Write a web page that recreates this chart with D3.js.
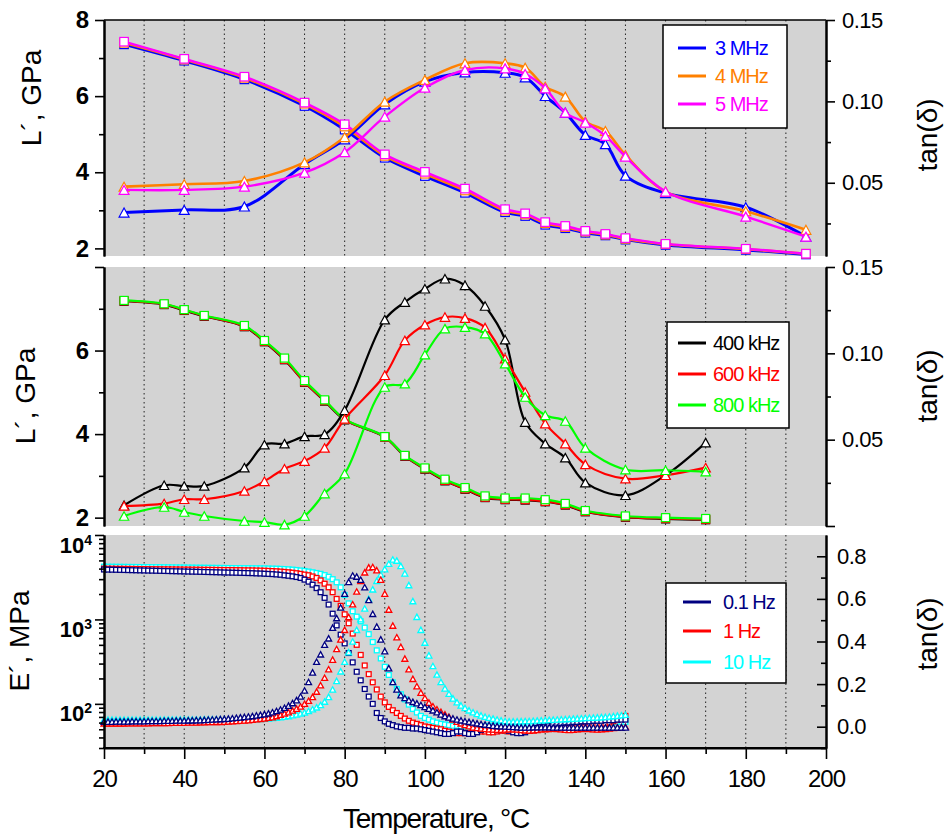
<!DOCTYPE html>
<html><head><meta charset="utf-8">
<script src="https://cdn.jsdelivr.net/npm/d3@7"></script>
<style>body{margin:0;background:#fff;} svg{display:block;}</style>
</head><body><svg id="c" width="949" height="838"></svg>
<script>
// ---------------- DATA ----------------
// Panel 1 (MHz)
const T1 = [25,40,55,70,80,90,100,110,120,125,130,135,140,145,150,160,180,195];
const L_3MHz = [7.36,6.93,6.44,5.74,5.12,4.38,3.90,3.46,2.95,2.85,2.62,2.53,2.41,2.34,2.23,2.09,1.96,1.84];
const L_4MHz = [7.40,6.96,6.48,5.80,5.20,4.43,3.96,3.52,2.99,2.89,2.66,2.56,2.44,2.36,2.25,2.11,1.98,1.86];
const L_5MHz = [7.43,6.98,6.51,5.83,5.26,4.47,4.01,3.57,3.03,2.92,2.69,2.59,2.46,2.38,2.27,2.12,1.99,1.86];
const tan_3MHz = [0.0317,0.0333,0.0354,0.0614,0.0767,0.0982,0.1121,0.1178,0.1176,0.1148,0.1033,0.0931,0.0794,0.0737,0.0544,0.0436,0.0350,0.0169];
const tan_4MHz = [0.0476,0.0491,0.0511,0.0625,0.0780,0.0998,0.1132,0.1234,0.1234,0.1207,0.1090,0.1029,0.0876,0.0818,0.0671,0.0446,0.0325,0.0211];
const tan_5MHz = [0.0456,0.0456,0.0476,0.0562,0.0688,0.0906,0.1084,0.1193,0.1203,0.1168,0.1080,0.0931,0.0870,0.0788,0.0661,0.0446,0.0292,0.0169];

// Panel 2 (kHz)
const T2 = [25,35,40,45,55,60,65,70,75,80,90,95,100,105,110,115,120,125,130,135,140,150,160,170];
const L_400k = [7.18,7.10,6.96,6.82,6.57,6.21,5.78,5.24,4.79,4.34,3.93,3.47,3.16,2.88,2.68,2.48,2.43,2.42,2.38,2.30,2.14,2.01,1.97,1.95];
const L_600k = [7.19,7.11,6.97,6.83,6.58,6.22,5.79,5.25,4.80,4.35,3.93,3.48,3.17,2.89,2.69,2.49,2.44,2.43,2.39,2.31,2.15,2.02,1.98,1.96];
const L_800k = [7.20,7.12,6.98,6.84,6.60,6.24,5.82,5.28,4.82,4.36,3.94,3.49,3.19,2.92,2.72,2.52,2.47,2.47,2.43,2.34,2.17,2.04,2.00,1.98];
const tan_400k = [0.0120,0.0236,0.0232,0.0232,0.0338,0.0471,0.0477,0.0519,0.0531,0.0670,0.1195,0.1297,0.1374,0.1432,0.1394,0.1274,0.1079,0.0602,0.0477,0.0396,0.0251,0.0178,0.0294,0.0483];
const tan_600k = [0.0116,0.0130,0.0155,0.0155,0.0203,0.0259,0.0332,0.0376,0.0452,0.0620,0.0873,0.1075,0.1166,0.1210,0.1204,0.1149,0.0969,0.0776,0.0593,0.0477,0.0357,0.0274,0.0294,0.0338];
const tan_800k = [0.0058,0.0110,0.0081,0.0058,0.0029,0.0023,0.0008,0.0058,0.0188,0.0303,0.0805,0.0824,0.0992,0.1143,0.1152,0.1114,0.0940,0.0747,0.0641,0.0608,0.0452,0.0327,0.0323,0.0315];

// Panel 3 (DMA, Hz)
const T3 = [20,21,22,23,24,25,26,27,28,29,30,31,32,33,34,35,36,37,38,39,40,41,42,43,44,45,46,47,48,49,
50,51,52,53,54,55,56,57,58,59,60,61,62,63,64,65,66,67,68,69,70,71,72,73,74,75,76,77,78,79,
80,81,82,83,84,85,86,87,88,89,90,91,92,93,94,95,96,97,98,99,100,101,102,103,104,105,106,107,108,109,
110,111,112,113,114,115,116,117,118,119,120,121,122,123,124,125,126,127,128,129,130,131,132,133,134,135,136,137,138,139,
140,141,142,143,144,145,146,147,148,149,150];
const E_01Hz = [3900,3890,3880,3870,3860,3850,3840,3830,3820,3810,
3800,3790,3780,3770,3760,3750,3740,3730,3720,3710,
3700,3690,3680,3670,3660,3650,3640,3630,3620,3610,
3600,3590,3580,3570,3560,3550,3540,3530,3510,3500,
3480,3460,3440,3410,3380,3330,3290,3240,3180,3100,
2960,2800,2580,2350,2100,1800,1500,1170,850,660,
520,400,310,240,190,150,122,100,78,68,
62,58,56,54,53,52,52,51,51,50,
49,48,47,46,45,44,44,45,47,47,
45,44,44,46,49,51,51,50,49,49,
49,48,46,45,45,46,48,50,52,53,
54,55,57,58,59,60,60,61,61,62,
62,62,63,63,63,64,64,64,65,65,65];
const E_1Hz = [4000,3995,3990,3985,3980,3975,3970,3965,3960,3955,
3950,3945,3940,3935,3930,3925,3920,3915,3910,3905,
3900,3895,3890,3885,3880,3875,3870,3865,3860,3855,
3850,3845,3840,3835,3830,3820,3815,3810,3800,3790,
3780,3760,3740,3720,3690,3660,3620,3580,3530,3470,
3400,3340,3230,3100,2900,2650,2400,2100,1750,1450,
1150,900,680,500,380,285,225,180,148,122,
104,92,84,78,72,67,63,60,58,56,
54,53,52,51,50,48,47,46,45,45,
45,45,46,47,47,47,46,46,47,48,
48,47,47,47,47,48,48,49,49,50,
50,50,51,51,52,52,52,53,53,54,
54,55,55,56,57,58,60,62,65,68,72];
const E_10Hz = [4220,4215,4210,4205,4200,4195,4190,4185,4180,4175,
4170,4165,4160,4155,4150,4145,4140,4135,4130,4125,
4120,4115,4110,4105,4100,4095,4090,4085,4080,4075,
4070,4065,4060,4055,4050,4045,4040,4035,4030,4025,
4020,4010,4000,3990,3970,3950,3920,3890,3850,3800,
3750,3690,3620,3550,3470,3350,3200,3000,2750,2400,
1950,1550,1250,1080,950,800,670,540,430,345,
275,220,180,150,130,113,98,87,79,72,
68,65,62,60,58,57,56,55,55,54,
54,54,54,54,54,54,55,55,55,55,
56,56,56,56,56,56,56,57,57,57,
57,57,58,58,58,58,58,58,59,59,
59,59,59,60,60,60,60,60,61,61,61];
const tan_01Hz = [.024,.024,.024,.025,.025,.025,.025,.026,.026,.026,
.026,.027,.027,.027,.027,.028,.028,.028,.029,.029,
.029,.030,.030,.031,.031,.032,.033,.034,.035,.036,
.037,.038,.040,.042,.044,.046,.048,.050,.053,.056,
.059,.063,.068,.074,.081,.089,.099,.111,.125,.142,
.170,.210,.255,.305,.340,.385,.415,.465,.510,.560,
.625,.680,.710,.705,.690,.655,.595,.530,.470,.410,
.355,.275,.210,.175,.148,.135,.125,.117,.110,.102,
.093,.085,.077,.068,.058,.050,.044,.039,.034,.030,
.026,.023,.020,.016,.013,.010,.008,.005,.003,.002,
.001,0,-.001,-.002,-.003,-.003,-.003,-.002,-.002,-.002,
-.002,-.002,-.003,-.003,-.003,-.003,-.003,-.003,-.003,-.003,
-.003,-.003,-.003,-.003,-.003,-.003,-.003,-.003,-.003,-.003,-.003];
const tan_1Hz = [.016,.016,.016,.016,.016,.016,.017,.017,.017,.017,
.017,.017,.018,.018,.018,.018,.018,.019,.019,.019,
.019,.020,.020,.020,.021,.021,.022,.022,.023,.023,
.024,.025,.026,.027,.028,.029,.031,.033,.035,.037,
.039,.042,.045,.050,.056,.062,.068,.076,.085,.095,
.108,.122,.140,.165,.195,.230,.270,.315,.365,.410,
.455,.515,.575,.635,.685,.725,.748,.750,.735,.690,
.625,.550,.475,.420,.375,.320,.270,.225,.190,.160,
.135,.113,.096,.082,.070,.058,.047,.034,.024,.016,
.008,.002,-.003,-.006,-.008,-.010,-.012,-.013,-.014,-.014,
-.013,-.012,-.012,-.013,-.015,-.017,-.018,-.017,-.015,-.012,
-.010,-.009,-.009,-.010,-.012,-.014,-.015,-.014,-.012,-.010,
-.009,-.010,-.012,-.013,-.012,-.010,-.008,-.006,-.004,-.002,0];
const tan_10Hz = [.033,.033,.033,.033,.033,.033,.033,.033,.033,.033,
.033,.033,.033,.033,.033,.034,.034,.034,.034,.034,
.034,.034,.034,.034,.034,.035,.035,.035,.035,.035,
.035,.035,.035,.036,.036,.036,.036,.037,.037,.037,
.038,.039,.041,.043,.045,.047,.050,.054,.058,.062,
.067,.074,.082,.091,.102,.118,.140,.175,.215,.260,
.305,.350,.400,.455,.505,.555,.600,.645,.685,.715,
.740,.765,.785,.780,.755,.720,.665,.590,.516,.455,
.395,.335,.285,.245,.210,.180,.155,.133,.115,.100,
.088,.077,.068,.060,.053,.047,.042,.038,.034,.030,
.027,.025,.025,.025,.026,.027,.027,.028,.029,.030,
.031,.032,.033,.034,.035,.036,.037,.038,.039,.040,
.041,.042,.043,.044,.045,.046,.048,.050,.052,.054,.056];

// Ticks
const xMajor = [20,40,60,80,100,120,140,160,180,200];
const xMinor = [30,50,70,90,110,130,150,170,190];
const gridT = [30,40,50,60,70,80,90,100,110,120,130,140,150,160,170,180,190];
const LMajor = [2,4,6,8];
const LMinor = [3,5,7];
const tanMajor12 = [0,0.05,0.10,0.15];
const tanMinor12 = [0.025,0.075,0.125];
const EMajor = [100,1000,10000];
const EMinor = [30,40,50,60,70,80,90,200,300,400,500,600,700,800,900,2000,3000,4000,5000,6000,7000,8000,9000];
const tan3Major = [0,0.2,0.4,0.6,0.8];
const tan3Minor = [-0.1,0.1,0.3,0.5,0.7];

// ---------------- DRAW ----------------
const FONT = "'Liberation Sans', Arial, Helvetica, sans-serif";
const svg = d3.select("#c").attr("font-family", FONT);
const X0 = 104, X1 = 826;
const x = d3.scaleLinear().domain([20,200]).range([X0,X1]);

const P1 = {top:20, bottom:256};
const P2 = {top:267, bottom:526};
const P3 = {top:535, bottom:748};

const y1L = d3.scaleLinear().domain([1.8,8]).range([P1.bottom,P1.top]);
const y1R = d3.scaleLinear().domain([0.005,0.15]).range([P1.bottom,P1.top]);
const y2L = d3.scaleLinear().domain([1.8,8]).range([P2.bottom,P2.top]);
const y2R = d3.scaleLinear().domain([0,0.15]).range([P2.bottom,P2.top]);
const y3L = d3.scaleLog().domain([30,10000]).range([P3.bottom,P3.top]);
const y3R = d3.scaleLinear().domain([-0.1,0.9]).range([P3.bottom,P3.top]);

function background(P){
  svg.append("rect").attr("x",X0).attr("y",P.top).attr("width",X1-X0).attr("height",P.bottom-P.top).attr("fill","#d3d3d3");
  svg.append("g").selectAll("line").data(gridT).join("line")
    .attr("x1",d=>x(d)).attr("x2",d=>x(d)).attr("y1",P.top).attr("y2",P.bottom)
    .attr("stroke","#222").attr("stroke-width",1).attr("stroke-dasharray","1.5,3");
}
background(P1); background(P2); background(P3);
svg.append("line").attr("x1",X0).attr("x2",X1).attr("y1",P1.top).attr("y2",P1.top).attr("stroke","#000").attr("stroke-width",1.5);

function styleAxis(g, fs, fw, ls){
  g.attr("font-family",FONT).attr("font-size",fs).attr("font-weight",fw);
  g.selectAll("text").attr("fill","#000").attr("letter-spacing",ls);
  g.selectAll(".tick line").attr("stroke","#000").attr("stroke-width",1.6);
  g.select(".domain").attr("stroke","#000").attr("stroke-width",2);
  return g;
}
function leftAxis(scale, major, minor, fmt){
  const gM = svg.append("g").attr("transform",`translate(${X0},0)`)
    .call(d3.axisLeft(scale).tickValues(minor).tickSize(5).tickSizeOuter(0).tickFormat(""));
  styleAxis(gM,24,"bold",0);
  const g = svg.append("g").attr("transform",`translate(${X0},0)`)
    .call(d3.axisLeft(scale).tickValues(major).tickSize(9).tickSizeOuter(0).tickPadding(6).tickFormat(fmt));
  return styleAxis(g,24,"bold",0);
}
function rightAxis(scale, major, minor, fmt, inward){
  const s = inward ? -1 : 1;
  const gM = svg.append("g").attr("transform",`translate(${X1},0)`)
    .call(d3.axisRight(scale).tickValues(minor).tickSize(5*s).tickSizeOuter(0).tickFormat(""));
  styleAxis(gM,22,"normal",0);
  const g = svg.append("g").attr("transform",`translate(${X1},0)`)
    .call(d3.axisRight(scale).tickValues(major).tickSize(9*s).tickSizeOuter(0).tickPadding(inward?11:7).tickFormat(fmt));
  return styleAxis(g,22,"normal","-0.5px");
}

// ---- marker helpers
function triPath(w,h){ return `M0,${-h/2}L${w/2},${h/2}L${-w/2},${h/2}Z`; }
function drawSeries(T, vals, ys, color, lw, marker, msz, sw){
  const pts = T.map((t,i)=>[t, vals[i]]);
  if (lw>0){
    const line = d3.line().x(d=>x(d[0])).y(d=>ys(d[1])).curve(d3.curveCatmullRom.alpha(0.5));
    svg.append("path").attr("d",line(pts)).attr("fill","none").attr("stroke",color).attr("stroke-width",lw).attr("stroke-linejoin","round");
  }
  const g = svg.append("g");
  if (marker==="sq"){
    g.selectAll("rect").data(pts).join("rect")
      .attr("x",d=>x(d[0])-msz/2).attr("y",d=>ys(d[1])-msz/2).attr("width",msz).attr("height",msz)
      .attr("fill","#fff").attr("stroke",color).attr("stroke-width",sw);
  } else {
    const p = triPath(msz*1.1, msz);
    g.selectAll("path").data(pts).join("path")
      .attr("transform",d=>`translate(${x(d[0])},${ys(d[1])})`).attr("d",p)
      .attr("fill","#fff").attr("stroke",color).attr("stroke-width",sw);
  }
}

// ---- Panel 1
const c1 = ["#0000ff","#ff8000","#ff00ff"];
[[L_3MHz,c1[0],3],[L_4MHz,c1[1],2.6],[L_5MHz,c1[2],2.4]].forEach(([v,c,w])=>drawSeries(T1,v,y1L,c,w,"sq",8.5,1.2));
[[tan_3MHz,c1[0],3],[tan_4MHz,c1[1],2.6],[tan_5MHz,c1[2],2.4]].forEach(([v,c,w])=>drawSeries(T1,v,y1R,c,w,"tri",9,1.2));

// ---- Panel 2
const c2 = ["#000000","#ff0000","#00ff00"];
[[L_400k,c2[0]],[L_600k,c2[1]],[L_800k,c2[2]]].forEach(([v,c])=>drawSeries(T2,v,y2L,c,2.2,"sq",8,1.2));
[[tan_400k,c2[0]],[tan_600k,c2[1]],[tan_800k,c2[2]]].forEach(([v,c])=>drawSeries(T2,v,y2R,c,2.2,"tri",8.5,1.2));

// ---- Panel 3
const c3 = ["#000080","#ff0000","#00ffff"];
[[E_10Hz,c3[2]],[E_1Hz,c3[1]],[E_01Hz,c3[0]]].forEach(([v,c])=>drawSeries(T3,v,y3L,c,0,"sq",4.8,1.3));
[[tan_10Hz,c3[2]],[tan_1Hz,c3[1]],[tan_01Hz,c3[0]]].forEach(([v,c])=>drawSeries(T3,v,y3R,c,0,"tri",5.4,1.3));

// ---- Axes
leftAxis(y1L, LMajor, LMinor, d=>String(d));
rightAxis(y1R, [0.05,0.10,0.15], tanMinor12, d3.format(".2f"), false);
leftAxis(y2L, LMajor, LMinor, d=> d===8 ? "" : String(d));
rightAxis(y2R, tanMajor12, tanMinor12, d=> d===0 ? "" : d3.format(".2f")(d), false);
const gE = leftAxis(y3L, EMajor, EMinor, ()=>"");
gE.selectAll(".tick text").each(function(d){
  const t = d3.select(this).attr("x",-12).attr("y",17).attr("dy",null).attr("font-size",22);
  t.append("tspan").text("10");
  t.append("tspan").text(String(Math.round(Math.log10(d)))).attr("font-size",14).attr("dy",-8);
});
rightAxis(y3R, tan3Major, tan3Minor, d3.format(".1f"), true);

// x axis
const gxm = svg.append("g").attr("transform",`translate(0,${P3.bottom})`)
  .call(d3.axisBottom(x).tickValues(xMinor).tickSize(6).tickSizeOuter(0).tickFormat(""));
styleAxis(gxm,24,"normal",0);
const gx = svg.append("g").attr("transform",`translate(0,${P3.bottom})`)
  .call(d3.axisBottom(x).tickValues(xMajor).tickSize(11).tickSizeOuter(0).tickPadding(11).tickFormat(d=>String(d)));
styleAxis(gx,24,"normal","-1px");
gx.select(".domain").attr("d",`M${X0-1},0H${X1+1}`);

// ---- titles
function vTitle(txt, bx, cy){
  svg.append("text").attr("transform",`translate(${bx},${cy}) rotate(-90)`).attr("text-anchor","middle")
    .attr("font-size",28).attr("fill","#000").text(txt);
}
vTitle("L\u00B4, GPa", 41, 98);
vTitle("L\u00B4, GPa", 35, 396);
vTitle("E\u00B4, MPa", 29, 641);
vTitle("tan(\u03B4)", 937, 135);
vTitle("tan(\u03B4)", 937, 386);
vTitle("tan(\u03B4)", 937, 634);
svg.append("text").attr("x",436).attr("y",828).attr("text-anchor","middle").attr("font-size",28)
  .attr("letter-spacing","-1.2px").attr("fill","#000").text("Temperature, \u00B0C");

// ---- legends
function legend(bx,by,bw,bh,items,lx1,lx2,tx,lw){
  svg.append("rect").attr("x",bx).attr("y",by).attr("width",bw).attr("height",bh)
    .attr("fill","#fff").attr("stroke","#000").attr("stroke-width",1.5);
  items.forEach(it=>{
    svg.append("line").attr("x1",lx1).attr("x2",lx2).attr("y1",it.y).attr("y2",it.y).attr("stroke",it.c).attr("stroke-width",lw);
    svg.append("text").attr("x",tx).attr("y",it.y).attr("dy","0.36em").attr("font-size",20)
      .attr("letter-spacing","-1px").attr("fill",it.c).text(it.t);
  });
}
legend(663,25,124,103,[{t:"3 MHz",c:c1[0],y:48},{t:"4 MHz",c:c1[1],y:76},{t:"5 MHz",c:c1[2],y:104}],678,706,715,3);
legend(667,322,122,106,[{t:"400 kHz",c:c2[0],y:343},{t:"600 kHz",c:c2[1],y:374},{t:"800 kHz",c:c2[2],y:405}],678,706,713,3);
legend(666,583,120,100,[{t:"0.1 Hz",c:c3[0],y:602},{t:"1 Hz",c:c3[1],y:631},{t:"10 Hz",c:c3[2],y:662}],683,711,723,3);
</script></body></html>
